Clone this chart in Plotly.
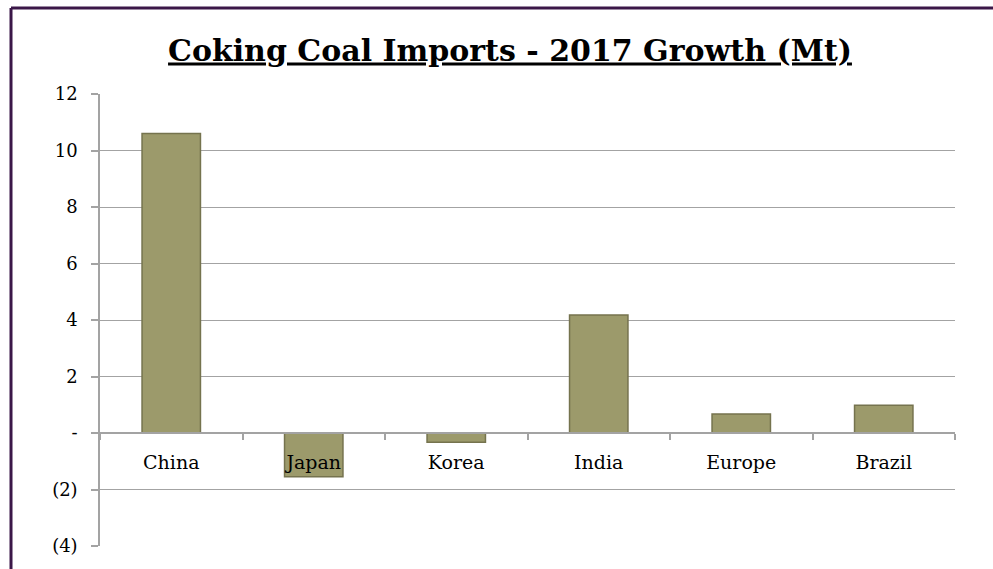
import plotly.graph_objects as go

categories = ["China", "Japan", "Korea", "India", "Europe", "Brazil"]
growth_mt = [10.6, -1.55, -0.33, 4.18, 0.67, 0.98]
y_tickvals = [-4, -2, 0, 2, 4, 6, 8, 10, 12]
y_ticktext = ["(4)", "(2)", "-", "2", "4", "6", "8", "10", "12"]

W, H = 993, 569
ML, MR, MT, MB = 100, 38, 94, 23
ymin, ymax = -4, 12

fig = go.Figure(go.Bar(
    x=categories, y=growth_mt, width=0.41,
    marker=dict(color="#9c9a6b", line=dict(color="#75734e", width=1.5)),
))

font_family = "DejaVu Serif"
fig.update_layout(
    width=W, height=H,
    margin=dict(l=ML, r=MR, t=MT, b=MB),
    paper_bgcolor="white", plot_bgcolor="white",
    showlegend=False,
    title=dict(text="<u><b>Coking Coal Imports - 2017 Growth (Mt)</b></u>",
               x=(510 - ML) / (W - ML - MR), xref="paper", xanchor="center",
               y=1 - 50 / H, yanchor="middle",
               font=dict(family=font_family, size=30, color="black")),
    yaxis=dict(range=[ymin, ymax], tickvals=y_tickvals, ticktext=y_ticktext,
               showgrid=True, gridcolor="#a3a3a3", gridwidth=1.3,
               showline=True, linecolor="#a3a3a3", linewidth=1.5,
               ticks="outside", ticklen=7, tickcolor="#a3a3a3", tickwidth=1.5,
               zeroline=False, ticklabelstandoff=10,
               tickfont=dict(family=font_family, size=18, color="black")),
    xaxis=dict(anchor="free", position=(0 - ymin) / (ymax - ymin),
               showgrid=False, showline=True, linecolor="#a3a3a3", linewidth=1.5,
               ticks="outside", tickson="boundaries", ticklen=6,
               tickcolor="#a3a3a3", tickwidth=1.5, layer="above traces",
               ticklabelstandoff=12,
               tickfont=dict(family=font_family, size=19, color="black")),
    shapes=[
        dict(type="line", xref="paper", yref="paper",
             x0=(11 - ML) / (W - ML - MR), x1=(W + 5 - ML) / (W - ML - MR),
             y0=(H - MB - 8) / (H - MT - MB), y1=(H - MB - 8) / (H - MT - MB),
             line=dict(color="#3b1748", width=3)),
        dict(type="line", xref="paper", yref="paper",
             x0=(11 - ML) / (W - ML - MR), x1=(11 - ML) / (W - ML - MR),
             y0=(H - MB - 8) / (H - MT - MB), y1=-0.2,
             line=dict(color="#3b1748", width=3)),
    ],
)

fig.write_html("out.html")
